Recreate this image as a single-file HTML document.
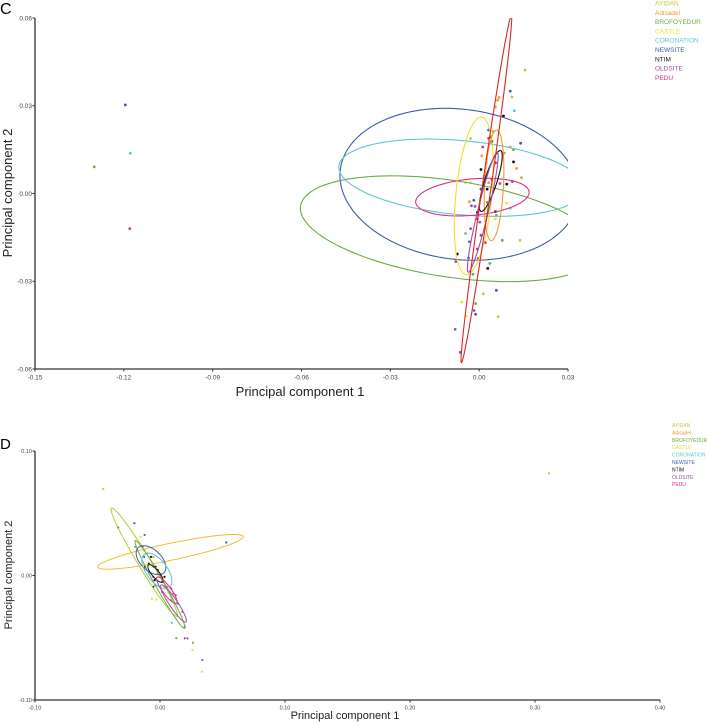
<!DOCTYPE html>
<html><head><meta charset="utf-8">
<style>
html,body{margin:0;padding:0;background:#fff;}
svg{display:block;font-family:"Liberation Sans",Arial,sans-serif;}
</style></head>
<body>
<svg id="fig" width="707" height="723" viewBox="0 0 707 723">
<defs>
<clipPath id="clipC"><rect x="35" y="18" width="533" height="351"/></clipPath>
<clipPath id="clipD"><rect x="35" y="451" width="625" height="249"/></clipPath>
</defs>
<text x="0" y="14" font-size="16">C</text>
<text x="0" y="449" font-size="15">D</text>
<g id="panelC"></g>
<g id="panelD"></g>
</svg>
<script>
// ---- shared group data ----
const groups = ["AYIDAN","Adisadel","BROFOYEDUR","CASTLE","CORONATION","NEWSITE","NTIM","OLDSITE","PEDU"];
const groupColors = ["#c9c63a","#f29a2e","#6aad43","#eee02c","#63c3d3","#3d5ca8","#111111","#9a4fa6","#dd2f86"];

// ---- Panel C data ----
const cXTicks = [-0.15,-0.12,-0.09,-0.06,-0.03,0.00,0.03];
const cYTicks = [0.06,0.03,0.00,-0.03,-0.06];
const cXVals = [0.0155,0.0111,0.0138,0.0064,0.0014,-0.0029,
 0.0062,0.0067,0.0055,0.0047,0.0105,0.0009,0.0024,0.0126,0.0143,-0.0033,0.0032,0.0085,
 0.0036,-0.0012,-0.0021,0.0058,0.0078,0.0116,0.0027,-0.130,
 -0.0046,-0.0059,-0.0044,0.0093,0.0055,0.0024,-0.0029,
 0.0119,-0.0046,0.0105,0.0040,0.0017,-0.1178,
 0.0105,0.0032,0.0140,0.0058,-0.0012,-0.0018,0.0006,-0.1195,
 0.0082,0.0040,0.0043,0.0116,0.0093,0.0006,0.0055,-0.0074,0.0029,-0.0006,0.0027,0.0055,
 -0.0081,-0.0064,-0.0017,-0.0026,-0.0014,-0.0079,0.0002,-0.0029,-0.0033,0.0006,-0.0036,
 0.0032,0.0012,0.0112,0.0070,-0.0003,0.0021,-0.0006,-0.0006,0.0043,0.0055,-0.118];
const cYVals = [0.0422,0.0330,-0.0160,-0.0421,-0.0343,0.0188,
 0.0319,0.0328,0.0296,0.0212,0.0159,0.0129,0.0105,0.0086,0.0054,-0.0028,0.0037,0.0138,
 -0.0239,-0.0376,-0.0276,-0.0075,-0.0160,0.0150,-0.0030,0.0091,
 0.0037,-0.0371,-0.0419,-0.0033,-0.0087,0.0116,0.0037,
 0.0283,-0.0137,-0.0051,0.0172,0.0060,0.0137,
 0.0350,0.0217,0.0172,-0.0331,-0.0413,-0.0023,0.0015,0.0303,
 0.0265,0.0195,0.0178,0.0108,0.0032,0.0082,0.0105,-0.0207,-0.0256,-0.0064,0.0015,-0.0062,
 -0.0464,-0.0543,-0.0400,-0.0042,-0.0044,-0.0233,-0.0098,-0.0120,-0.0165,-0.0143,-0.0220,
 0.0189,0.0159,0.0041,0.0034,-0.0222,-0.0168,-0.0190,-0.0087,0.0048,0.0105,-0.012];
const cGroup = [0,0,0,0,0,0, 1,1,1,1,1,1,1,1,1,1,1,1, 2,2,2,2,2,2,2,2, 3,3,3,3,3,3,3, 4,4,4,4,4,4,
 5,5,5,5,5,5,5,5, 6,6,6,6,6,6,6,6,6,6,6,6, 7,7,7,7,7,7,7,7,7,7,7, 8,8,8,8,8,8,8,8,8,8,8];
const cEllCx = [-0.00669,-0.00593,-0.00973,-0.00228,-0.00182,0.00502,0.00395,0.00122,0.00243];
const cEllCy = [0.00315,0.0054,-0.01205,-0.00124,-0.00079,0.00281,0.00428,-0.00642,0.00146];
const cEllAx = [0.0386,0.0414,0.0504,0.01912,0.00254,0.0009,0.00325,0.00488,0.00842];
const cEllAy = [-0.0104,-0.00431,-0.00861,0.00199,0.02695,0.0189,0.01042,0.0205,0.0593];
const cEllBx = [-0.0117,-0.00237,-0.00496,0.00116,0.00607,0.0032,0.00207,0.0018,0.0015];
const cEllBy = [-0.0238,-0.01249,-0.0159,-0.00613,-0.00032,0,-0.00035,-0.0002,0];
const cEllCol = ["#3d5ca8","#63c3d3","#6aad43","#dd2f86","#eee02c","#f29a2e","#111111","#9a4fa6","#e02424"];

// ---- Panel D data ----
const dXTicks = [-0.10,0.00,0.10,0.20,0.30,0.40];
const dYTicks = [0.10,0.00,-0.10];
const dXVals = [0.3111,-0.0454,
 -0.0162,-0.0054,0.0036,-0.0126,
 0.0263,0.0130,-0.0198,0.0018,
 0.0260,0.0335,-0.0065,-0.0029,-0.0155,
 0.0094,-0.0054,-0.0090,
 -0.0335,-0.0205,-0.0123,0.0530,-0.0126,-0.0036,
 -0.0141,-0.0108,-0.0090,-0.0036,-0.0018,0.0000,-0.0043,0.0036,-0.0054,0.0018,-0.0119,-0.0072,
 0.0339,0.0198,0.0220,0.0126,0.0144,0.0180,0.0198,0.0090,
 0.0054,0.0090,0.0072,0.0018,0.0108,-0.0018,-0.0054];
const dYVals = [0.0821,0.0695,
 0.0257,0.0150,-0.0091,0.0203,
 -0.0540,-0.0503,0.0230,-0.0037,
 -0.0599,-0.0773,-0.0187,-0.0193,0.0310,
 -0.0380,0.0070,0.0016,
 0.0385,0.0420,0.0326,0.0265,0.0150,-0.0078,
 0.0230,0.0176,0.0096,0.0070,0.0043,0.0003,-0.0037,-0.0011,-0.0091,-0.0131,0.0070,0.0150,
 -0.0679,-0.0505,-0.0505,-0.0158,-0.0225,-0.0291,-0.0412,-0.0198,
 -0.0091,-0.0104,-0.0131,-0.0051,-0.0144,0.0016,-0.0011];
const dGroup = [0,0, 1,1,1,1, 2,2,2,2, 3,3,3,3,3, 4,4,4, 5,5,5,5,5,5,
 6,6,6,6,6,6,6,6,6,6,6,6, 7,7,7,7,7,7,7,7, 8,8,8,8,8,8,8];
const dEllCx = [0.0083,-0.0126,0.0000,-0.0072,-0.0025,-0.0036,0.0054,0.0108];
const dEllCy = [0.0190,0.0107,-0.0072,0.0123,0.0037,0.0016,-0.0118,-0.0225];
const dEllAx = [0.0582,0.0261,0.0197,0.0087,0.0088,0.0054,0.0076,0.0098];
const dEllAy = [0.01238,-0.0435,-0.0353,-0.0111,-0.0141,-0.0070,-0.0106,-0.0149];
const dEllBx = [0.0025,-0.0049,-0.0035,-0.0081,-0.0082,-0.0028,-0.0032,-0.0032];
const dEllBy = [-0.0064,-0.0016,-0.0011,-0.0035,-0.0028,-0.0012,-0.0013,-0.0012];
const dEllCol = ["#efbf2a","#b8c934","#6aad43","#3d5ca8","#63c3d3","#111111","#dd2f86","#9a4fa6"];

const NS = "http://www.w3.org/2000/svg";
function mk(tag, attrs, parent){
  const e = document.createElementNS(NS, tag);
  for (const k in attrs) e.setAttribute(k, attrs[k]);
  parent.appendChild(e);
  return e;
}

function drawPanel(opt){
  const g = document.getElementById(opt.id);
  const sx = v => opt.x0 + (v - opt.xmin) / (opt.xmax - opt.xmin) * (opt.x1 - opt.x0);
  const sy = v => opt.y0 - (v - opt.ymin) / (opt.ymax - opt.ymin) * (opt.y0 - opt.y1);
  const xa = mk("line", {x1:opt.x0, y1:opt.y0, x2:opt.x1, y2:opt.y0, stroke:"#333", "stroke-width":1.3}, g);
  
  
  const ya = mk("line", {x1:opt.x0, y1:opt.y0, x2:opt.x0, y2:opt.y1, stroke:"#333", "stroke-width":1.3}, g);
  
  
  opt.xTicks.forEach(t => {
    const x = sx(t);
    const tk = mk("line", {x1:x, y1:opt.y0, x2:x, y2:opt.y0+2.5, stroke:"#333", "stroke-width":1}, g);
    
    
    const tl = mk("text", {x:x, y:opt.y0+opt.tickFs+4, "font-size":opt.tickFs, "text-anchor":"middle", fill:"#444"}, g);
    tl.textContent = t.toFixed(2);
    
    
  });
  opt.yTicks.forEach(t => {
    const y = sy(t);
    const tk = mk("line", {x1:opt.x0-2.5, y1:y, x2:opt.x0, y2:y, stroke:"#333", "stroke-width":1}, g);
    
    
    const tl = mk("text", {x:opt.x0-3, y:y+opt.tickFs*0.35, "font-size":opt.tickFs, "text-anchor":"end", fill:"#444"}, g);
    tl.textContent = t.toFixed(2);
    
    
  });
  const xt = mk("text", {x:opt.xTitleX, y:opt.xTitleY, "font-size":opt.titleFs, "text-anchor":"middle", fill:"#222"}, g);
  xt.textContent = "Principal component 1";
  
  
  const yt = mk("text", {x:0, y:0, "font-size":opt.titleFs, "text-anchor":"middle", fill:"#222",
    transform:"translate(" + opt.yTitleX + "," + opt.yTitleY + ") rotate(-90)"}, g);
  yt.textContent = "Principal component 2";
  
  
  const pg = mk("g", {"clip-path":"url(#" + opt.clip + ")"}, g);
  
  
  opt.xs.forEach((v, i) => {
    const c = mk("circle", {cx:sx(v), cy:sy(opt.ys[i]), r:opt.pr, fill:groupColors[opt.grp[i]]}, pg);
    
    
  });
  const eg = mk("g", {"clip-path":"url(#" + opt.clip + ")"}, g);
  
  
  opt.ecx.forEach((cx, i) => {
    let d = "";
    for (let k = 0; k <= 160; k++){
      const a = k / 160 * Math.PI * 2;
      const px = sx(cx + opt.eax[i]*Math.cos(a) + opt.ebx[i]*Math.sin(a));
      const py = sy(opt.ecy[i] + opt.eay[i]*Math.cos(a) + opt.eby[i]*Math.sin(a));
      d += (k ? "L" : "M") + px.toFixed(2) + " " + py.toFixed(2);
    }
    const p = mk("path", {d:d + "Z", fill:"none", stroke:opt.ecol[i], "stroke-width":opt.ew}, eg);
    
    
  });
  groups.forEach((name, i) => {
    const t = mk("text", {x:opt.legX, y:opt.legY + i*opt.legStep, "font-size":opt.legFs, fill:groupColors[i]}, g);
    t.textContent = name;
    
    
  });
}

drawPanel({id:"panelC", clip:"clipC", x0:35, x1:568, y0:369, y1:18, xmin:-0.15, xmax:0.03, ymin:-0.06, ymax:0.06,
  xTicks:cXTicks, yTicks:cYTicks, tickFs:6.5, titleFs:13, xTitleX:300, xTitleY:396, yTitleX:12, yTitleY:193,
  xs:cXVals, ys:cYVals, grp:cGroup, pr:1.4,
  ecx:cEllCx, ecy:cEllCy, eax:cEllAx, eay:cEllAy, ebx:cEllBx, eby:cEllBy, ecol:cEllCol, ew:1.1,
  legX:655, legY:5.5, legStep:9.3, legFs:6.5});

drawPanel({id:"panelD", clip:"clipD", x0:35, x1:660, y0:700, y1:451, xmin:-0.10, xmax:0.40, ymin:-0.10, ymax:0.10,
  xTicks:dXTicks, yTicks:dYTicks, tickFs:5.5, titleFs:11, xTitleX:345, xTitleY:719, yTitleX:12, yTitleY:575,
  xs:dXVals, ys:dYVals, grp:dGroup, pr:1.1,
  ecx:dEllCx, ecy:dEllCy, eax:dEllAx, eay:dEllAy, ebx:dEllBx, eby:dEllBy, ecol:dEllCol, ew:1,
  legX:672, legY:427, legStep:7.4, legFs:5});
</script>
</body></html>
